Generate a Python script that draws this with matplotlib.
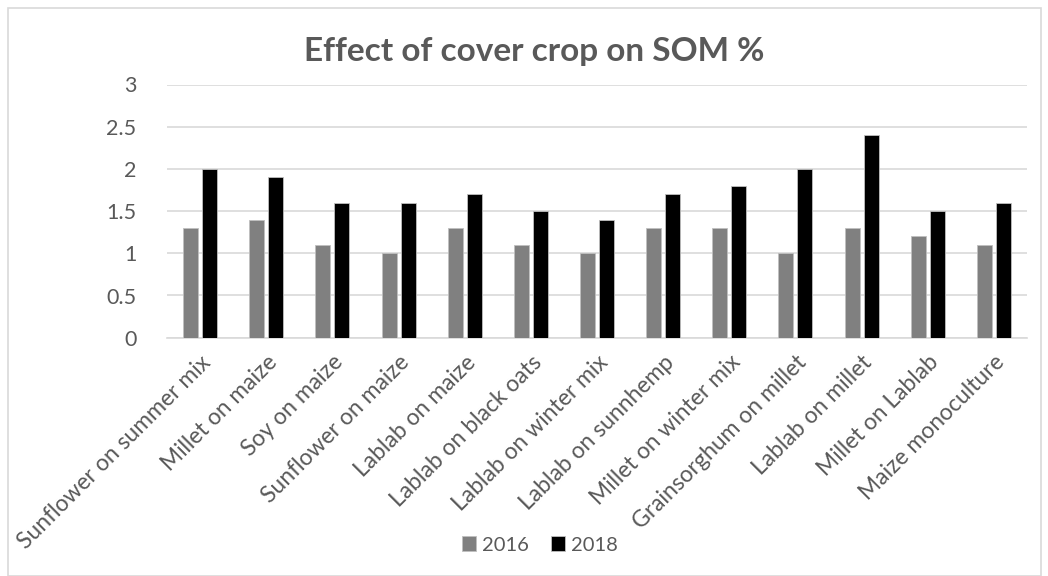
import numpy as np
import matplotlib.pyplot as plt
from matplotlib.patches import Rectangle

categories = ["Sunflower on summer mix", "Millet on maize", "Soy on maize",
              "Sunflower on maize", "Lablab on maize", "Lablab on black oats",
              "Lablab on winter mix", "Lablab on sunnhemp", "Millet on winter mix",
              "Grainsorghum on millet", "Lablab on millet", "Millet on Lablab",
              "Maize monoculture"]
som_2016 = [1.3, 1.4, 1.1, 1.0, 1.3, 1.1, 1.0, 1.3, 1.3, 1.0, 1.3, 1.2, 1.1]
som_2018 = [2.0, 1.9, 1.6, 1.6, 1.7, 1.5, 1.4, 1.7, 1.8, 2.0, 2.4, 1.5, 1.6]
yticks = [0, 0.5, 1, 1.5, 2, 2.5, 3]
ytick_labels = ["0", "0.5", "1", "1.5", "2", "2.5", "3"]

plt.rcParams['font.family'] = ['Lato', 'DejaVu Sans']
text_col = '#595959'

fig = plt.figure(figsize=(10.48, 5.76), dpi=100)
ax = fig.add_axes([167 / 1048, 1 - 337.7 / 576, (1027 - 167) / 1048, (337.7 - 84.5) / 576])

x = np.arange(len(categories))
w = 0.227
ax.bar(x - 0.144, som_2016, w, color='#808080', edgecolor='#bfbfbf', linewidth=0.6, label='2016', zorder=3)
ax.bar(x + 0.144, som_2018, w, color='#000000', edgecolor='#bfbfbf', linewidth=0.6, label='2018', zorder=3)

ax.set_xlim(-0.5, len(categories) - 0.5)
ax.set_ylim(0, 3)
ax.set_yticks(yticks)
ax.set_yticklabels(ytick_labels)
ax.yaxis.grid(True, color='#d9d9d9', linewidth=1.2, zorder=0)
ax.tick_params(axis='y', length=0, pad=22, labelsize=15.5, labelcolor=text_col)
ax.set_xticks(x)
ax.set_xticklabels(categories, rotation=45, ha='right', rotation_mode='anchor')
ax.tick_params(axis='x', length=0, pad=10, labelsize=16.5, labelcolor=text_col)
for s in ['top', 'right', 'left']:
    ax.spines[s].set_visible(False)
ax.spines['bottom'].set_color('#d9d9d9')
ax.spines['bottom'].set_linewidth(1.2)

fig.text(534 / 1048, 1 - 52 / 576, "Effect of cover crop on SOM %", ha='center', va='center',
         fontsize=24, fontweight='bold', color=text_col)

fig.legend(loc='center', bbox_to_anchor=(0.515, 1 - 545 / 576), ncol=2, frameon=False,
           fontsize=14.5, labelcolor=text_col, handlelength=0.7, handleheight=0.7,
           handletextpad=0.3, columnspacing=1.1)

fig.patches.append(Rectangle((8 / 1048, 0), (1041 - 8) / 1048, 1 - 8 / 576,
                             transform=fig.transFigure, fill=False,
                             edgecolor='#d9d9d9', linewidth=1.2))

fig.savefig('out.png', dpi=100)
